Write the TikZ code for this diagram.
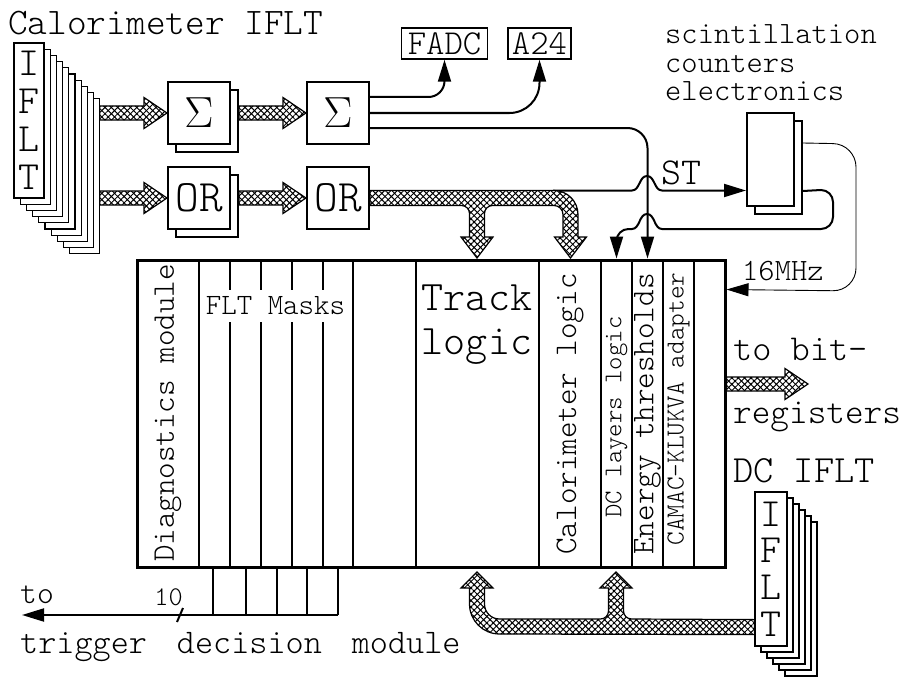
\documentclass[tikz,border=0pt]{standalone}
\usepackage{graphicx}
\usepackage{fontspec}
\newfontfamily\lmlight{lmmonolt10-regular.otf}
\usetikzlibrary{arrows.meta,calc,patterns.meta,shadows}

\newcommand{\ttsize}[1]{\lmlight\fontsize{#1}{#1}\selectfont}
% hatched bus arrow pointing right, #1 and #2 on one level
\newcommand{\fatarrow}[2]{%
	\draw[fat] ($(#1)+(0,-7)$) -- ($(#2)+(-23,-7)$) -- ($(#2)+(-23,-15.5)$) -- (#2)
		-- ($(#2)+(-23,15.5)$) -- ($(#2)+(-23,7)$) -- ($(#1)+(0,7)$) -- cycle;}

\begin{document}
\begin{tikzpicture}[%
		x=1pt,y=-1pt,
		box/.style={draw,line width=2pt,fill=white,inner sep=0pt,minimum width=62,minimum height=62},%
		shadowed/.style={copy shadow={shadow xshift=8pt,shadow yshift=-8pt}},%
		card/.style={draw,line width=1.2pt,fill=white},%
		frame/.style={draw,line width=3pt,minimum width=588,minimum height=307},%
		div/.style={line width=2pt},%
		wire/.style={line width=2pt},%
		thinwire/.style={line width=0.9pt},%
		sig/.style={-{Triangle[length=22pt,width=13pt]}},%
		fat/.style={%
			draw,line width=1.2pt,
			preaction={fill=white},
			preaction={pattern={Lines[angle=45,distance=4.5pt,line width=1pt]}},
			pattern={Lines[angle=-45,distance=4.5pt,line width=1pt]}},%
		lbl/.style={inner sep=0pt,anchor=base west},%
		vert/.style={rotate=90,inner sep=0pt}
		]
		\useasboundingbox (0,0) rectangle (903,677);

		% calorimeter IFLT cards
		\node[lbl,font=\ttsize{37.5}] (caltitle) at (8,35) {Calorimeter IFLT};
		\draw[card] (69.8,98.8) rectangle (99.8,253.8);
		\draw[card] (63.6,92.6) rectangle (93.6,247.6);
		\draw[card] (57.4,86.4) rectangle (87.4,241.4);
		\draw[card] (51.2,80.2) rectangle (81.2,235.2);
		\draw[card] (45,74) rectangle (75,229);
		\draw[card] (38.8,67.8) rectangle (68.8,222.8);
		\draw[card] (32.6,61.6) rectangle (62.6,216.6);
		\draw[card] (26.4,55.4) rectangle (56.4,210.4);
		\draw[card] (20.2,49.2) rectangle (50.2,204.2);
		\node[card,inner sep=0pt,minimum width=30,minimum height=155,align=center,
			font=\lmlight\fontsize{40}{38}\selectfont] (cal) at (29,120.5) {I\\F\\L\\T};
		\coordinate (calrear) at (99.8,120);

		% adders and OR
		\node[box,shadowed,font=\huge] (s1) at (199,113) {\scalebox{2.1}{$\Sigma$}};
		\node[box,font=\huge] (s2) at (338,113) {\scalebox{2.1}{$\Sigma$}};
		\node[box,shadowed,font=\ttsize{45}] (or1) at (199,198) {OR};
		\node[box,font=\ttsize{45}] (or2) at (338,198) {OR};
		\coordinate (s1out) at ($(s1.east)+(8,0)$);
		\coordinate (or1out) at ($(or1.east)+(8,0)$);
		\coordinate (cals) at (calrear |- s1.west);
		\coordinate (calo) at (calrear |- or1.west);
		\fatarrow{cals}{s1.west}
		\fatarrow{s1out}{s2.west}
		\fatarrow{calo}{or1.west}
		\fatarrow{or1out}{or2.west}

		% trigger module
		\node[frame] (flt) at (431,413.5) {};
		\draw[div] (199,260) -- (199,567);
		\draw[div] (230,260) -- (230,567);
		\draw[div] (261,260) -- (261,567);
		\draw[div] (292,260) -- (292,567);
		\draw[div] (323,260) -- (323,567);
		\draw[div] (353,260) -- (353,567);
		\draw[div] (416,260) -- (416,567);
		\draw[div] (539,260) -- (539,567);
		\draw[div] (601,260) -- (601,567);
		\draw[div] (632,260) -- (632,567);
		\draw[div] (663,260) -- (663,567);
		\draw[div] (694,260) -- (694,567);
		\node[fill=white,inner xsep=1pt,inner ysep=7pt,font=\ttsize{29.5}] (masks) at (275.5,306) {FLT Masks};
		\node[vert,font=\ttsize{31.5}] (diag) at (168,413) {Diagnostics module};
		\node[inner sep=0pt,align=center,font=\lmlight\fontsize{42}{44}\selectfont] (track) at (477,325) {Track\\logic};
		\node[vert,font=\ttsize{31.5}] (calo) at (570,414) {Calorimeter logic};
		\node[vert,font=\ttsize{25.5}] (dcl) at (616.5,417) {DC layers logic};
		\node[vert,font=\ttsize{31.5}] (ethr) at (647.5,414) {Energy thresholds};
		\node[vert,font=\ttsize{26}] (camac) at (678.5,409) {CAMAC-KLUKVA adapter};

		% mask outputs
		\draw[div] (213,567) -- (213,615);
		\draw[div] (246,567) -- (246,615);
		\draw[div] (277,567) -- (277,615);
		\draw[div] (307,567) -- (307,615);
		\draw[div] (338,567) -- (338,615);
		\coordinate (maskout) at (338,615);
		\coordinate (tdm) at (22,615);
		\draw[wire,sig] (maskout) -- (tdm);
		\draw[wire] (177,622) -- (183,608);
		\node[inner sep=0pt,font=\ttsize{27}] (nbits) at (168.5,597) {10};
		\node[lbl,font=\ttsize{32}] (to) at (20,603) {to};
		\node[lbl,font={\ttsize{34.5}\spaceskip=30pt\relax}] (tdmtext) at (20,653) {trigger decision module};

		% outputs of the second adder
		\node[draw,line width=1.5pt,inner sep=2pt,minimum width=86,minimum height=31,
			font=\ttsize{35}] (fadc) at (444.5,43.5) {FADC};
		\node[draw,line width=1.5pt,inner sep=2pt,minimum width=63,minimum height=31,
			font=\ttsize{35}] (a24) at (539.5,43.5) {A24};
		\draw[wire,sig,rounded corners=16pt] ($(s2.east)+(0,-16)$) -| (fadc.south);
		\draw[wire,sig,rounded corners=30pt] (s2.east) -| (a24.south);
		\draw[wire,sig,rounded corners=20pt] ($(s2.east)+(0,15)$) -| (ethr |- flt.north);

		% scintillation counters
		\node[lbl,font=\ttsize{31}] (sc1) at (665,44) {scintillation};
		\node[lbl,font=\ttsize{31}] (sc2) at (665,72.5) {counters};
		\node[lbl,font=\ttsize{31}] (sc3) at (665,101) {electronics};
		\node[box,shadowed,minimum width=47,minimum height=93] (scint) at (770.5,159.5) {};
		\node[lbl,font=\ttsize{38}] (st) at (661,184) {ST};
		\coordinate (stout) at (553,190.5);
		\draw[wire,sig] (stout) -- (632,190.5)
			.. controls (640,190.5) and (639,176) .. (647,176)
			.. controls (655,176) and (654,190.5) .. (662,190.5) -- (scint.west |- stout);
		\draw[wire,sig] ($(scint.south east)+(8,-16)$) -- (821,190)
			.. controls (827.6,190) and (833,195.4) .. (833,202) -- (833,217)
			.. controls (833,223.6) and (827.6,229) .. (821,229)
			-- (662,229) .. controls (654,229) and (655,214) .. (647,214)
			.. controls (639,214) and (640,229) .. (632,229) -- (628.5,229)
			.. controls (621.9,229) and (616.5,234.4) .. (616.5,241) -- (dcl |- flt.north);
		\node[lbl,font=\ttsize{31}] (mhz) at (742,280) {16MHz};
		\draw[thinwire,sig,rounded corners=23pt] ($(scint.north east)+(8,31)$) -- (856,144)
			-- (856,291) -- ($(flt.north east)+(0,31)$);

		% OR bus to track and calorimeter logic
		\draw[fat] ($(or2.east)+(0,-7.5)$) -- (554,190.5)
			.. controls (567.25,190.5) and (578,201.25) .. (578,214.5)
			-- (578,237) -- (586.5,237) -- (570.5,258) -- (554.5,237) -- (563,237)
			-- (563,214.5) .. controls (563,209.53) and (558.97,205.5) .. (554,205.5)
			-- (492.5,205.5) .. controls (488.08,205.5) and (484.5,209.08) .. (484.5,213.5)
			-- (484.5,237) -- (493,237) -- (477,258) -- (461,237) -- (469.5,237)
			-- (469.5,213.5) .. controls (469.5,209.08) and (465.92,205.5) .. (461.5,205.5)
			-- ($(or2.east)+(0,7.5)$) -- cycle;

		% to bit-registers
		\node[lbl,font=\ttsize{36.5}] (tobit) at (733,360) {to bit-};
		\node[lbl,font=\ttsize{35.5}] (regs) at (733,423) {registers};
		\coordinate (bitreg) at (808,384);
		\coordinate (fltout) at (flt.east |- bitreg);
		\fatarrow{fltout}{bitreg}

		% DC IFLT cards
		\node[lbl,font=\ttsize{38.5}] (dctitle) at (733,482) {DC IFLT};
		\draw[card] (785,522) rectangle (817,676);
		\draw[card] (779,516) rectangle (811,670);
		\draw[card] (773,510) rectangle (805,664);
		\draw[card] (767,504) rectangle (799,658);
		\draw[card] (761,498) rectangle (793,652);
		\node[card,inner sep=0pt,minimum width=32,minimum height=154,align=center,
			font=\lmlight\fontsize{40}{36.7}\selectfont] (dc) at (771,569) {I\\F\\L\\T};

		% DC bus to track and DC layers logic
		\draw[fat] ($(dc.south west)+(0,-27)$) -- (631.5,619)
			.. controls (627.08,619) and (623.5,615.42) .. (623.5,611)
			-- (623.5,588) -- (632,588) -- (616,572) -- (600,588) -- (608.5,588)
			-- (608.5,611) .. controls (608.5,615.42) and (604.92,619) .. (600.5,619)
			-- (499.5,619) .. controls (491.22,619) and (484.5,612.28) .. (484.5,604)
			-- (484.5,588) -- (493,588) -- (477,572) -- (461,588) -- (469.5,588)
			-- (469.5,604) .. controls (469.5,620.57) and (482.93,634) .. (499.5,634)
			-- ($(dc.south west)+(0,-12)$) -- cycle;
	\end{tikzpicture}
\end{document}
